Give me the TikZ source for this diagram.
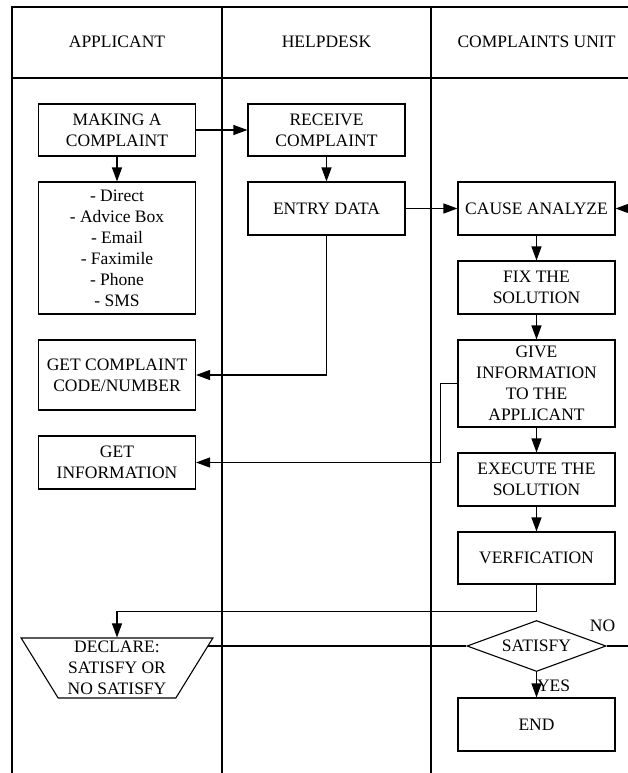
\documentclass[tikz,border=0pt]{standalone}
\usepackage{fontspec}
\setmainfont{Liberation Serif}
\usetikzlibrary{arrows.meta, positioning, shapes.geometric, calc}

\begin{document}
\begin{tikzpicture}[x=1pt, y=-1pt, line width=1.1pt,
    font=\fontsize{17.5}{21}\selectfont,
    box/.style={draw, minimum width=157pt, align=center, inner sep=2pt},
    flow/.style={-{Triangle[length=14pt, width=10pt]}},
    lbl/.style={inner sep=0pt},
  ]
  \useasboundingbox (0,0) rectangle (628,773);
  \clip (0,0) rectangle (628,773);

  % Swim lanes
  \draw (640,7) -- (12,7) -- (12,773);
  \draw (12,78) -- (640,78);
  \foreach \x in {222, 431} {
    \draw (\x,7) -- (\x,773);
  }
  \foreach \i/\x/\name in {0/117/APPLICANT, 1/326.5/HELPDESK, 2/536.5/COMPLAINTS UNIT} {
    \node (head\i) at (\x,42) {\name};
  }

  % Applicant
  \node[box, minimum height=52pt] (make) at (117,130) {MAKING A\\COMPLAINT};
  \node[box, minimum height=132pt] (media) at (117,248) {- Direct\\- Advice Box\\- Email\\- Faximile\\- Phone\\- SMS};
  \node[box, minimum height=70pt] (code) at (117,375) {GET COMPLAINT\\CODE/NUMBER};
  \node[box, minimum height=53pt] (getinfo) at (117,462.5) {GET\\INFORMATION};
  \node[draw, trapezium, shape border rotate=180, trapezium left angle=60, trapezium right angle=60,
        trapezium stretches=true, minimum width=192pt, minimum height=60pt, align=center, inner sep=0pt]
        (declare) at (117,668) {DECLARE:\\SATISFY OR\\NO SATISFY};

  % Helpdesk
  \node[box, minimum height=52pt] (receive) at (326.5,130) {RECEIVE\\COMPLAINT};
  \node[box, minimum height=53pt] (entry) at (326.5,208.5) {ENTRY DATA};

  % Complaints unit
  \node[box, minimum height=53pt] (cause) at (536.5,208.5) {CAUSE ANALYZE};
  \node[box, minimum height=53pt] (fix) at (536.5,287.5) {FIX THE\\SOLUTION};
  \node[box, minimum height=87pt] (give) at (536.5,383.5) {GIVE\\INFORMATION\\TO THE\\APPLICANT};
  \node[box, minimum height=53pt] (exec) at (536.5,479.5) {EXECUTE THE\\SOLUTION};
  \node[box, minimum height=52pt] (verif) at (536.5,558) {VERFICATION};
  \node[draw, diamond, aspect=2.7, minimum width=139pt, minimum height=51pt, inner sep=0pt] (sat) at (536.5,646) {SATISFY};
  \node[box, minimum height=53pt] (end) at (536.5,724.5) {END};

  % Flow
  \draw[flow] (make) -- (receive);
  \draw[flow] (make) -- (media);
  \draw[flow] (receive) -- (entry);
  \draw[flow] (entry) -- (cause);
  \draw[flow] (entry.south) |- (code.east);
  \draw[flow] (cause) -- (fix);
  \draw[flow] (fix) -- (give);
  \draw[flow] (give) -- (exec);
  \draw[flow] (exec) -- (verif);
  \draw[flow] (give.west) -- ++(-17,0) |- (getinfo.east);
  \draw[flow] (verif.south) -- ++(0,27) -| (declare.north);
  \draw (sat.west) -- (sat.west -| declare.13.5);

  % Decision
  \draw[flow] (sat.east) -- ++(40,0) |- (cause.east);
  \draw[flow] (sat) -- (end);
  \node[lbl, above=14pt of sat.east, xshift=-4pt] (no) {NO};
  \node[lbl, anchor=west] (yes) at ($(sat.south)!0.55!(end.north)$) {YES};
\end{tikzpicture}
\end{document}
